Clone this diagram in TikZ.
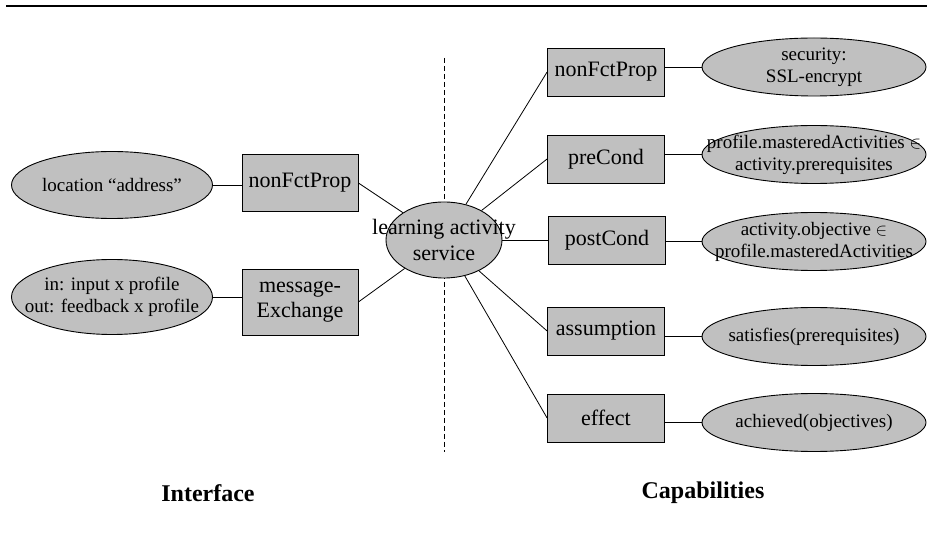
\documentclass[tikz,border=0pt]{standalone}
\usepackage{fontspec}
\setmainfont{Liberation Serif}
\usetikzlibrary{positioning,shapes.geometric,backgrounds}
\definecolor{ink}{HTML}{000000}
\definecolor{shade}{HTML}{C0C0C0}
\newcommand{\nw}[1]{\makebox[0pt]{#1}}

\begin{document}
\begin{tikzpicture}[x=1pt, y=-1pt,
  box/.style={draw=ink, fill=shade, align=center, inner sep=0pt, minimum width=117pt, minimum height=48pt, font=\fontsize{22}{25}\selectfont, line width=0.8pt},
  bubble/.style={ellipse, draw=ink, fill=shade, align=center, inner sep=0pt, minimum width=224pt, minimum height=58pt, font=\fontsize{19}{22}\selectfont, line width=0.9pt},
  lab/.style={font=\fontsize{24}{28}\selectfont\bfseries},
  link/.style={draw=ink, line width=0.8pt},
]
\useasboundingbox (0,0) rectangle (927,537);
\draw[link, line width=1.3pt] (6,6) -- (927,6);
\coordinate (divtop) at (444,58);
\coordinate (divbot) at (444,452);
\draw[link, dash pattern=on 5pt off 3pt] (divtop) -- (divbot);
% service in the middle
\node[bubble, minimum width=116pt, minimum height=76pt, font=\fontsize{22}{26}\selectfont] (svc) at (444,240) {\nw{learning activity}\\\nw{service}};
% interface side
\node[box, minimum width=116pt, minimum height=57pt] (inprop) at (300,183) {nonFctProp};
\node[box, minimum width=116pt, minimum height=66pt] (inmsg) at (300,302) {message-\\Exchange};
\node[bubble, minimum width=201pt, minimum height=67pt] (loc) at (112,185) {\nw{location ``address''}};
\node[bubble, minimum width=201pt, minimum height=75pt] (io) at (112,297) {\nw{in: input x profile}\\\nw{out: feedback x profile}};
% capabilities side
\node[box] (cprop) at (606,72) {nonFctProp};
\node[box] (cpre) at (606,159) {preCond};
\node[box] (cpost) at (607,240) {postCond};
\node[box] (cass) at (606,331) {assumption};
\node[box] (ceff) at (606,418) {effect};
\node[bubble] (sec) at (814,67) {\nw{security:}\\\nw{SSL-encrypt}};
\node[bubble] (pre) at (814,154.5) {\nw{profile.masteredActivities $\in$}\\\nw{activity.prerequisites}};
\node[bubble] (post) at (814,241.5) {\nw{activity.objective $\in$}\\\nw{profile.masteredActivities}};
\node[bubble] (sat) at (814,336.5) {\nw{satisfies(prerequisites)}};
\node[bubble] (ach) at (814,422.5) {\nw{achieved(objectives)}};
\node[lab] (iface) at (208,493) {Interface};
\node[lab] (caps) at (703,493) {Capabilities};
\draw[link] (loc.east) -- (loc.east -| inprop.west);
\draw[link] (io.east) -- (io.east -| inmsg.west);
\draw[link] (svc) -- (inprop.east);
\draw[link] (svc) -- (inmsg.east);
\draw[link] (svc) -- (cprop.west);
\draw[link] (svc) -- (cpre.west);
\draw[link] (svc) -- (cpost.west);
\draw[link] (svc) -- (cass.west);
\draw[link] (svc) -- (ceff.west);
\draw[link] (cprop.east |- sec.west) -- (sec.west);
\draw[link] (cpre.east |- pre.west) -- (pre.west);
\draw[link] (cpost.east |- post.west) -- (post.west);
\draw[link] (cass.east |- sat.west) -- (sat.west);
\draw[link] (ceff.east |- ach.west) -- (ach.west);
\end{tikzpicture}
\end{document}
